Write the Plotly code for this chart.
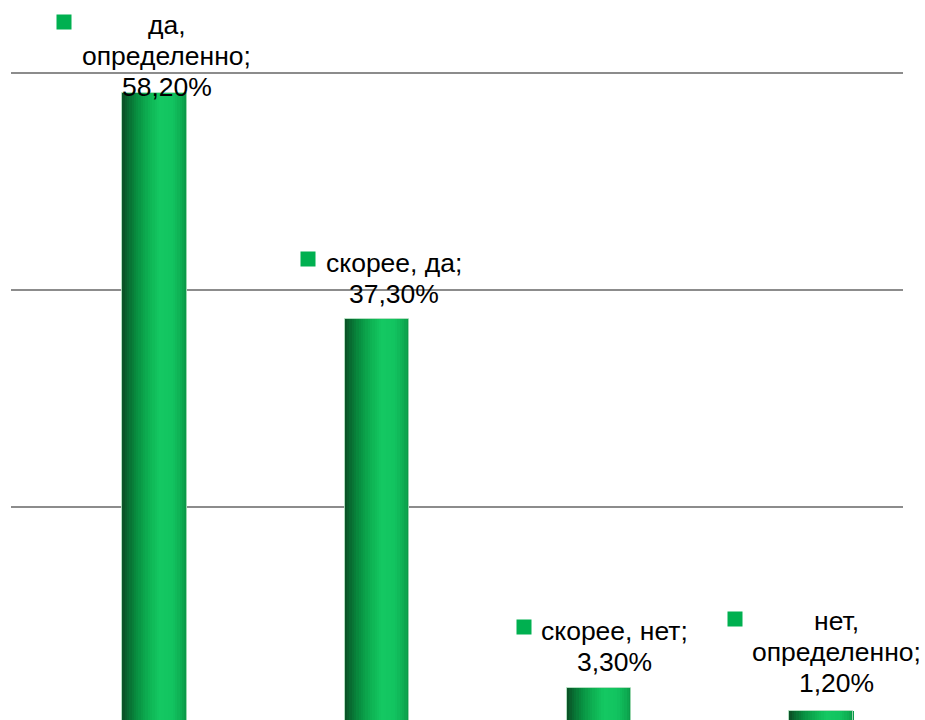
import plotly.graph_objects as go

# ---- data ----
categories = ["да, определенно", "скорее, да", "скорее, нет", "нет, определенно"]
values = [58.2, 37.3, 3.3, 1.2]
label_lines = [["да,", "определенно;", "58,20%"],
               ["скорее, да;", "37,30%"],
               ["скорее, нет;", "3,30%"],
               ["нет,", "определенно;", "1,20%"]]

# ---- style / layout ----
font_size = 26.5
line_gap = 31.0                      # px between baselines
text_dx = [12.2, 17, 15, 15.5]       # px shift of label text centre from bar centre
base_dy = [-3.3, 16.3, 17.5, 19.3]   # px of last baseline above bar top
key_dx = [-98.5, -77, -83, -94.5]    # px left edge of legend key from bar centre
key_dy = [62.7, 52, 53, 84]          # px bottom of legend key above bar top
desc = 0.28 * font_size              # baseline -> box bottom distance

bar_width = 0.288
stops = [(0.0, (10, 78, 36)), (0.08, (8, 105, 48)), (0.22, (8, 142, 64)),
         (0.42, (14, 180, 84)), (0.58, (20, 200, 98)), (0.78, (18, 196, 96)),
         (0.92, (14, 172, 82)), (1.0, (10, 150, 70))]


def color_at(t):
    for (t0, c0), (t1, c1) in zip(stops[:-1], stops[1:]):
        if t0 <= t <= t1:
            f = (t - t0) / (t1 - t0) if t1 > t0 else 0
            c = [round(a + (b - a) * f) for a, b in zip(c0, c1)]
            return "rgb(%d,%d,%d)" % tuple(c)
    return "rgb(%d,%d,%d)" % stops[-1][1]


xs = list(range(len(values)))
fig = go.Figure()
N = 28
sw = bar_width / N
for k in range(N):
    fig.add_trace(go.Bar(
        x=xs, y=values, width=[sw * 1.08] * len(xs),
        offset=[-bar_width / 2 + k * sw] * len(xs),
        marker=dict(color=color_at((k + 0.5) / N), line=dict(width=0)),
        hoverinfo="skip", showlegend=False))
# outline
fig.add_trace(go.Bar(
    x=xs, y=values, width=[bar_width] * len(xs),
    marker=dict(color="rgba(0,0,0,0)", line=dict(width=1, color="rgba(170,220,185,0.9)")),
    hoverinfo="skip", showlegend=False))

annotations = []
for i, (v, lines) in enumerate(zip(values, label_lines)):
    n = len(lines)
    for j, line in enumerate(lines):
        baseline_up = base_dy[i] + (n - 1 - j) * line_gap
        annotations.append(dict(
            x=i, y=v, xref="x", yref="y", text=line, showarrow=False,
            xanchor="center", yanchor="bottom", xshift=text_dx[i],
            yshift=baseline_up - desc, borderpad=0,
            font=dict(family="Liberation Sans, Arial, sans-serif", size=font_size,
                      color="#000000")))
    annotations.append(dict(
        x=i, y=v, xref="x", yref="y", text=" ", showarrow=False,
        xanchor="left", yanchor="bottom", xshift=key_dx[i], yshift=key_dy[i],
        width=14, height=14, borderpad=0, bgcolor="#00b050",
        font=dict(size=4)))

fig.update_layout(
    width=925, height=720,
    margin=dict(l=11, r=22, t=0, b=0),
    paper_bgcolor="white", plot_bgcolor="white",
    barmode="overlay", bargap=0,
    annotations=annotations,
    xaxis=dict(range=[-0.6455, 3.367], showgrid=False, zeroline=False,
               showticklabels=False, ticks="", showline=False, fixedrange=True),
    yaxis=dict(range=[0.37, 66.73], tick0=0, dtick=20, showgrid=True,
               gridcolor="#8c8c8c", gridwidth=2, zeroline=False,
               showticklabels=False, ticks="", showline=False, fixedrange=True),
)

fig.write_html("out.html", config={"displayModeBar": False},
               post_script="document.body.style.margin='0';document.body.style.padding='0';")
